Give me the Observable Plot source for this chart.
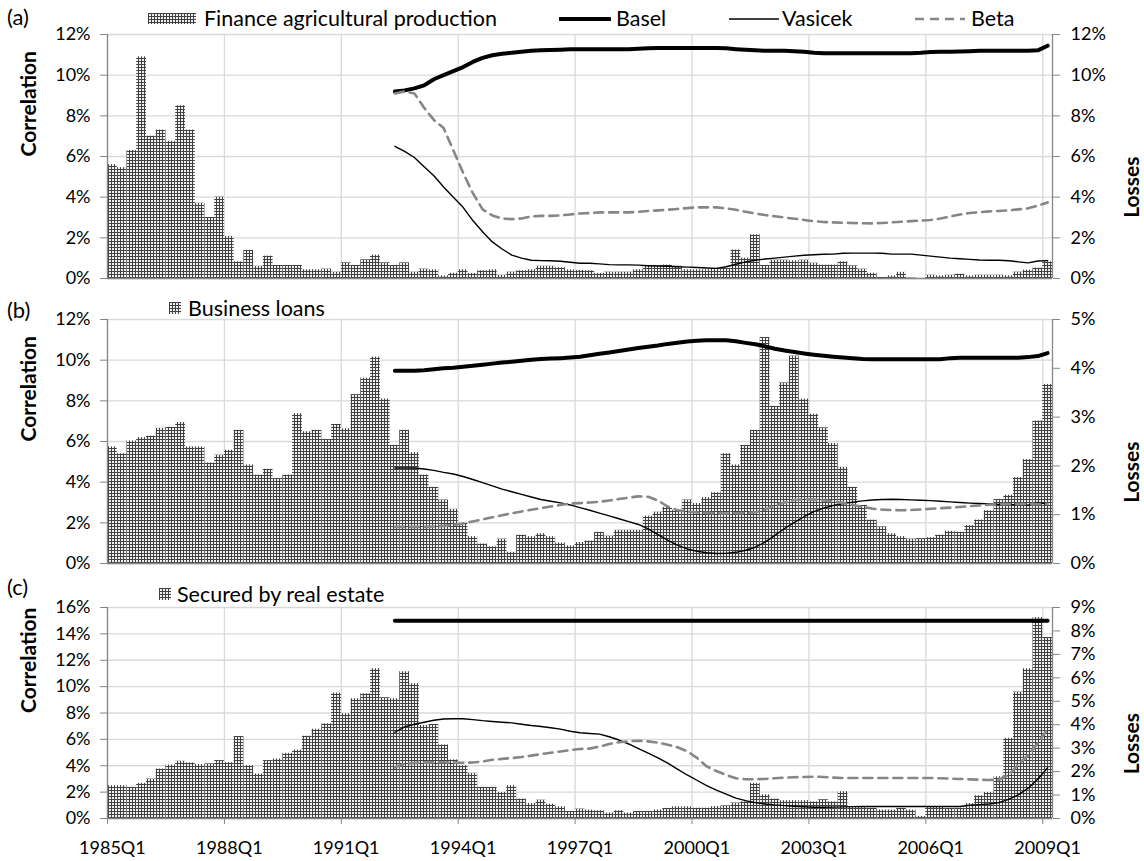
<!DOCTYPE html>
<html><head><meta charset="utf-8">
<script src="https://cdn.jsdelivr.net/npm/d3@7"></script>
<script src="https://cdn.jsdelivr.net/npm/@observablehq/plot@0.6"></script>
<style>
body{margin:0;background:#fff;font-family:Lato,sans-serif;color:#000;}
#root{position:relative;width:1144px;height:861px;overflow:hidden;background:#fff;}
.abs{position:absolute;white-space:nowrap;line-height:24px;height:24px;}
.panel{position:absolute;left:0;}
</style></head><body>
<svg width="0" height="0" style="position:absolute"><defs>
<pattern id="gridfill" patternUnits="userSpaceOnUse" width="3" height="3">
<rect width="3" height="3" fill="#f0f0f0"/>
<path d="M0,0.5H3M0.5,0V3" stroke="#404040" stroke-width="1"/>
</pattern></defs></svg>
<div id="root"></div>
<script>
// ---- categories ----
const quarters = [];
for (let y = 1985; y <= 2009; y++) for (let q = 1; q <= 4; q++) if (quarters.length < 97) quarters.push(y + "Q" + q);
const tickLabels = ["1985Q1","1988Q1","1991Q1","1994Q1","1997Q1","2000Q1","2003Q1","2006Q1","2009Q1"];
const lineStart = "1992Q2";

// ---- losses (bars, right axis, %) 1985Q1..2009Q1 ----
const lossFinanceAgri = [
 5.6, 5.45, 6.3, 10.9, 7.0, 7.3, 6.75, 8.5, 7.3, 3.7, 3.0, 4.0,
 2.07, 0.82, 1.38, 0.6, 1.1, 0.64, 0.64, 0.64, 0.43, 0.43, 0.46, 0.31,
 0.77, 0.64, 0.92, 1.15, 0.77, 0.64, 0.77, 0.31, 0.46, 0.43, 0.13, 0.26,
 0.43, 0.25, 0.38, 0.43, 0.16, 0.31, 0.38, 0.43, 0.6, 0.6, 0.53, 0.42,
 0.4, 0.38, 0.25, 0.31, 0.31, 0.31, 0.43, 0.64, 0.64, 0.66, 0.6, 0.43,
 0.43, 0.43, 0.5, 0.5, 1.4, 1.0, 2.15, 0.64, 0.9, 0.9, 0.87, 0.9,
 0.75, 0.66, 0.66, 0.82, 0.62, 0.46, 0.26, 0.05, 0.13, 0.3, 0.02, 0,
 0.16, 0.13, 0.16, 0.21, 0.13, 0.16, 0.16, 0.16, 0.13, 0.31, 0.41, 0.51,
 0.82];
const lossBusiness = [
 2.39, 2.25, 2.51, 2.58, 2.61, 2.77, 2.79, 2.89, 2.39, 2.39, 2.06, 2.22,
 2.32, 2.73, 2.02, 1.81, 1.93, 1.74, 1.81, 3.07, 2.7, 2.73, 2.54, 2.85,
 2.76, 3.46, 3.8, 4.23, 3.37, 2.42, 2.73, 2.27, 1.81, 1.56, 1.3, 1.11,
 0.82, 0.55, 0.4, 0.34, 0.5, 0.23, 0.58, 0.55, 0.61, 0.55, 0.42, 0.36,
 0.43, 0.46, 0.64, 0.56, 0.68, 0.68, 0.68, 0.97, 1.05, 1.15, 1.09, 1.3,
 1.23, 1.35, 1.45, 2.25, 2.02, 2.42, 2.73, 4.63, 3.22, 3.7, 4.25, 3.37,
 3.06, 2.78, 2.46, 1.97, 1.56, 1.19, 0.89, 0.75, 0.61, 0.55, 0.5, 0.51,
 0.53, 0.58, 0.66, 0.64, 0.78, 0.89, 1.08, 1.31, 1.4, 1.76, 2.13, 2.92,
 3.67];
const lossRealEstate = [
 1.4, 1.4, 1.33, 1.5, 1.68, 2.11, 2.28, 2.44, 2.37, 2.3, 2.33, 2.47,
 2.38, 3.5, 2.25, 1.9, 2.47, 2.54, 2.78, 2.92, 3.51, 3.81, 4.04, 5.35,
 4.47, 5.11, 5.32, 6.39, 5.15, 5.11, 6.26, 5.75, 3.97, 4.01, 3.14, 2.5,
 2.25, 1.93, 1.33, 1.33, 1.11, 1.4, 0.83, 0.64, 0.78, 0.61, 0.5, 0.3,
 0.4, 0.36, 0.33, 0.23, 0.33, 0.23, 0.3, 0.3, 0.36, 0.43, 0.5, 0.5,
 0.44, 0.44, 0.51, 0.54, 0.66, 0.71, 1.5, 1.01, 0.83, 0.76, 0.76, 0.76,
 0.71, 0.8, 0.71, 1.14, 0.51, 0.5, 0.44, 0.36, 0.36, 0.43, 0.36, 0.09,
 0.47, 0.47, 0.43, 0.44, 0.64, 0.97, 1.11, 1.78, 3.42, 5.39, 6.39, 8.57,
 7.72];

// ---- correlations (lines, left axis, %) 1992Q2..2009Q1 ----
const baselA = [
 9.2, 9.25, 9.35, 9.5, 9.8, 10.0, 10.2,
 10.4, 10.65, 10.85, 10.98, 11.05, 11.1, 11.15, 11.2, 11.22, 11.24, 11.25, 11.27,
 11.28, 11.28, 11.28, 11.28, 11.28, 11.28, 11.3, 11.32, 11.34, 11.34, 11.34, 11.34,
 11.34, 11.34, 11.34, 11.32, 11.28, 11.25, 11.22, 11.2, 11.2, 11.2, 11.18, 11.15,
 11.1, 11.08, 11.08, 11.08, 11.08, 11.08, 11.08, 11.08, 11.08, 11.08, 11.08, 11.1,
 11.14, 11.15, 11.15, 11.16, 11.18, 11.2, 11.2, 11.2, 11.2, 11.2, 11.2, 11.22,
 11.45];
const vasicekA = [
 6.5, 6.25, 5.95, 5.5, 5.05, 4.5, 4.0,
 3.5, 2.85, 2.3, 1.8, 1.45, 1.15, 1.0, 0.9, 0.88, 0.87, 0.85, 0.8,
 0.75, 0.75, 0.72, 0.68, 0.67, 0.67, 0.66, 0.63, 0.61, 0.6, 0.58, 0.56,
 0.54, 0.52, 0.5, 0.58, 0.7, 0.82, 0.9, 0.96, 1.0, 1.05, 1.1, 1.14,
 1.17, 1.19, 1.2, 1.24, 1.25, 1.25, 1.25, 1.24, 1.2, 1.2, 1.2, 1.15,
 1.1, 1.05, 1.0, 0.97, 0.94, 0.91, 0.9, 0.9, 0.87, 0.82, 0.77, 0.86,
 0.88];
const betaA = [
 9.1, 9.2, 9.1, 8.4, 7.8, 7.4, 6.3,
 5.2, 4.2, 3.4, 3.1, 2.95, 2.92, 2.95, 3.05, 3.08, 3.08, 3.1, 3.15,
 3.2, 3.22, 3.25, 3.25, 3.25, 3.25, 3.28, 3.32, 3.35, 3.38, 3.42, 3.46,
 3.5, 3.5, 3.5, 3.45, 3.38, 3.28, 3.2, 3.12, 3.06, 3.0, 2.94, 2.88,
 2.82, 2.78, 2.76, 2.74, 2.73, 2.72, 2.71, 2.73, 2.76, 2.79, 2.82, 2.85,
 2.88, 2.95, 3.05, 3.15, 3.22, 3.26, 3.3, 3.32, 3.35, 3.4, 3.45, 3.58,
 3.74];
const baselB = [
 9.48, 9.48, 9.48, 9.5, 9.55, 9.6, 9.63,
 9.68, 9.73, 9.78, 9.83, 9.88, 9.92, 9.97, 10.02, 10.06, 10.08, 10.1, 10.13,
 10.17, 10.24, 10.32, 10.38, 10.45, 10.52, 10.6, 10.66, 10.72, 10.8, 10.86, 10.92,
 10.95, 10.98, 10.98, 10.98, 10.93, 10.85, 10.78, 10.68, 10.56, 10.48, 10.4, 10.33,
 10.27, 10.22, 10.17, 10.13, 10.09, 10.06, 10.05, 10.05, 10.05, 10.05, 10.05, 10.05,
 10.05, 10.05, 10.1, 10.12, 10.12, 10.12, 10.12, 10.12, 10.12, 10.12, 10.15, 10.2,
 10.35];
const vasicekB = [
 4.7, 4.7, 4.7, 4.65, 4.58, 4.48, 4.4,
 4.28, 4.13, 3.98, 3.82, 3.66, 3.53, 3.4, 3.27, 3.15, 3.06, 2.98, 2.88,
 2.75, 2.62, 2.48, 2.34, 2.2, 2.06, 1.92, 1.7, 1.42, 1.15, 0.9, 0.72,
 0.6, 0.53, 0.49, 0.5, 0.55, 0.65, 0.8, 1.05, 1.38, 1.72, 2.02, 2.3,
 2.55, 2.72, 2.85, 2.95, 3.02, 3.08, 3.12, 3.15, 3.16, 3.15, 3.13, 3.11,
 3.09, 3.06, 3.03, 3.0, 2.97, 2.95, 2.93, 2.91, 2.9, 2.88, 2.87, 3.0,
 2.92];
const betaB = [
 1.8, 1.8, 1.8, 1.8, 1.82, 1.85, 1.9,
 1.97, 2.07, 2.17, 2.27, 2.37, 2.47, 2.56, 2.64, 2.72, 2.8, 2.88, 2.95,
 2.97, 3.0, 3.03, 3.1, 3.17, 3.24, 3.3, 3.28, 3.1, 2.8, 2.62, 2.55,
 2.51, 2.49, 2.47, 2.46, 2.47, 2.48, 2.52, 2.65, 2.85, 3.0, 3.12, 3.16,
 3.14, 3.1, 3.05, 2.98, 2.88, 2.79, 2.7, 2.65, 2.63, 2.62, 2.63, 2.66,
 2.69, 2.72, 2.75, 2.78, 2.82, 2.86, 2.89, 2.92, 2.92, 2.92, 2.92, 2.92,
 2.92];
const baselC = [
 15, 15, 15, 15, 15, 15, 15,
 15, 15, 15, 15, 15, 15, 15, 15, 15, 15, 15, 15,
 15, 15, 15, 15, 15, 15, 15, 15, 15, 15, 15, 15,
 15, 15, 15, 15, 15, 15, 15, 15, 15, 15, 15, 15,
 15, 15, 15, 15, 15, 15, 15, 15, 15, 15, 15, 15,
 15, 15, 15, 15, 15, 15, 15, 15, 15, 15, 15, 15,
 15];
const vasicekC = [
 6.54, 6.95, 7.15, 7.3, 7.45, 7.55, 7.56,
 7.56, 7.5, 7.42, 7.36, 7.3, 7.25, 7.15, 7.05, 6.98, 6.88, 6.78, 6.62,
 6.5, 6.45, 6.4, 6.2, 5.95, 5.65, 5.3, 4.95, 4.6, 4.2, 3.75, 3.3,
 2.9, 2.5, 2.15, 1.85, 1.55, 1.35, 1.2, 1.1, 1.03, 0.98, 0.93, 0.89,
 0.85, 0.85, 0.86, 0.88, 0.9, 0.91, 0.91, 0.91, 0.91, 0.91, 0.91, 0.91,
 0.91, 0.91, 0.91, 0.91, 1.0, 1.05, 1.1, 1.2, 1.45, 1.8, 2.3, 3.0,
 3.85];
const betaC = [
 3.88, 4.15, 4.2, 4.24, 4.26, 4.26, 4.24,
 4.22, 4.25, 4.32, 4.45, 4.52, 4.58, 4.66, 4.77, 4.88, 4.98, 5.08, 5.18,
 5.27, 5.3, 5.45, 5.65, 5.78, 5.86, 5.9, 5.85, 5.75, 5.6, 5.4, 5.1,
 4.6, 3.95, 3.6, 3.3, 3.05, 2.98, 2.98, 3.0, 3.05, 3.1, 3.13, 3.15,
 3.17, 3.15, 3.1, 3.07, 3.07, 3.07, 3.07, 3.07, 3.07, 3.07, 3.07, 3.07,
 3.07, 3.05, 3.02, 3.0, 2.97, 2.94, 2.92, 2.95, 3.3, 4.1, 4.8, 5.7,
 6.8];

const FONT = "Lato, 'Open Sans', sans-serif";
const AXIS = "#868686", GRID = "#d9d9d9";
const N = quarters.length;
const s0 = quarters.indexOf(lineStart);
const barRows = vals => vals.map((v, i) => ({i, v}));
const lineRows = vals => vals.map((v, k) => ({i: s0 + k, v}));

function panel({top, plotH, mTop, mBottom, leftMax, rightMax, rightStep, bars, basel, vasicek, beta, xAxis}) {
  const ratio = leftMax / rightMax;
  const leftTicks = d3.range(0, leftMax + 1e-9, 2);
  const rightTicks = d3.range(0, rightMax + 1e-9, rightStep);
  const bounds = tickLabels.map(l => quarters.indexOf(l));
  const marks = [
    Plot.gridY(leftTicks, {stroke: GRID, strokeOpacity: 1, strokeWidth: 1.3}),
    Plot.gridX(bounds, {stroke: GRID, strokeOpacity: 1, strokeWidth: 1.3}),
    Plot.rect(barRows(bars), {x1: "i", x2: d => d.i + 1, y1: 0, y2: d => d.v * ratio, fill: "url(#gridfill)"}),
    Plot.ruleY([0], {stroke: AXIS, strokeWidth: 1.3}),
    Plot.ruleX([0, N], {stroke: AXIS, strokeWidth: 1.3}),
    Plot.axisY(leftTicks, {anchor: "left", tickFormat: d => d + "%", tickSize: 7, tickPadding: 10, stroke: AXIS, fill: "#000", label: null, fontSize: 18}),
    Plot.axisY(rightTicks.map(v => v * ratio), {anchor: "right", tickFormat: d => Math.round(d / ratio) + "%", tickSize: 7, tickPadding: 11, stroke: AXIS, fill: "#000", label: null, fontSize: 18}),
    Plot.text(["Correlation"], {text: d => d, frameAnchor: "left", dx: -78, rotate: -90, fontWeight: "bold", fontSize: 21}),
    Plot.text(["Losses"], {text: d => d, frameAnchor: "right", dx: 80, rotate: -90, fontWeight: "bold", fontSize: 21}),
    Plot.line(lineRows(basel), {x: d => d.i + 0.5, y: "v", stroke: "#000", strokeWidth: 4, strokeLinecap: "round"}),
    Plot.line(lineRows(vasicek), {x: d => d.i + 0.5, y: "v", stroke: "#000", strokeWidth: 1.4}),
    Plot.line(lineRows(beta), {x: d => d.i + 0.5, y: "v", stroke: "#868686", strokeWidth: 2.6, strokeDasharray: "9,6"})
  ];
  if (xAxis) {
    marks.push(Plot.axisX(bounds, {anchor: "bottom", tickSize: 6, tickFormat: () => "", stroke: AXIS, label: null}));
    marks.push(Plot.axisX(bounds.map(i => i + 0.5), {anchor: "bottom", tickSize: 0, tickPadding: 23, tickFormat: d => quarters[Math.floor(d)], fill: "#000", label: null, fontSize: 18}));
  }
  const svg = Plot.plot({
    width: 1144, height: mTop + plotH + mBottom,
    marginLeft: 107, marginRight: 1144 - 1052, marginTop: mTop, marginBottom: mBottom,
    style: {fontFamily: FONT, fontSize: "18px", background: "transparent", overflow: "visible", color: "#000"},
    x: xAxis ? {domain: [0, N]} : {domain: [0, N], axis: null},
    y: {domain: [0, leftMax]},
    marks
  });
  svg.classList.add("panel");
  svg.style.top = (top - mTop) + "px";
  return svg;
}

const root = document.getElementById("root");
root.appendChild(panel({top: 34, plotH: 244, mTop: 12, mBottom: 12, leftMax: 12, rightMax: 12, rightStep: 2,
  bars: lossFinanceAgri, basel: baselA, vasicek: vasicekA, beta: betaA}));
root.appendChild(panel({top: 319, plotH: 244, mTop: 12, mBottom: 12, leftMax: 12, rightMax: 5, rightStep: 1,
  bars: lossBusiness, basel: baselB, vasicek: vasicekB, beta: betaB}));
root.appendChild(panel({top: 607, plotH: 211, mTop: 12, mBottom: 43, leftMax: 16, rightMax: 9, rightStep: 1,
  bars: lossRealEstate, basel: baselC, vasicek: vasicekC, beta: betaC, xAxis: true}));

// ---- labels & legends (HTML) ----
function txt(s, left, cy, size, extra) {
  const d = document.createElement("div");
  d.className = "abs"; d.textContent = s;
  d.style.left = left + "px"; d.style.top = (cy - 12) + "px"; d.style.fontSize = size + "px";
  if (extra) Object.assign(d.style, extra);
  root.appendChild(d);
}
function swatch(left, top, w, h, inner) {
  const ns = "http://www.w3.org/2000/svg";
  const s = document.createElementNS(ns, "svg");
  s.setAttribute("width", w); s.setAttribute("height", h);
  s.style.position = "absolute"; s.style.left = left + "px"; s.style.top = top + "px";
  s.innerHTML = inner;
  root.appendChild(s);
}
txt("(a)", 7, 17, 22);
txt("(b)", 7, 310, 22);
txt("(c)", 7, 587, 22);
swatch(148, 13, 48, 11, '<rect width="48" height="11" fill="url(#gridfill)"/>');
txt("Finance agricultural production", 204, 18, 21.5);
swatch(559, 12, 52, 14, '<line x1="1" x2="51" y1="7" y2="7" stroke="#000" stroke-width="4" stroke-linecap="round"/>');
txt("Basel", 616, 18, 21.5);
swatch(729, 12, 50, 14, '<line x1="0" x2="50" y1="7" y2="7" stroke="#000" stroke-width="1.4"/>');
txt("Vasicek", 782, 18, 21.5);
swatch(915, 12, 50, 14, '<line x1="0" x2="50" y1="7" y2="7" stroke="#868686" stroke-width="2.6" stroke-dasharray="9,6"/>');
txt("Beta", 971, 18, 21.5);
swatch(169, 302, 12, 12, '<rect width="12" height="12" fill="url(#gridfill)"/>');
txt("Business loans", 188, 308, 21.5);
swatch(159, 588, 12, 12, '<rect width="12" height="12" fill="url(#gridfill)"/>');
txt("Secured by real estate", 177, 594, 21.5);
</script>
</body></html>
